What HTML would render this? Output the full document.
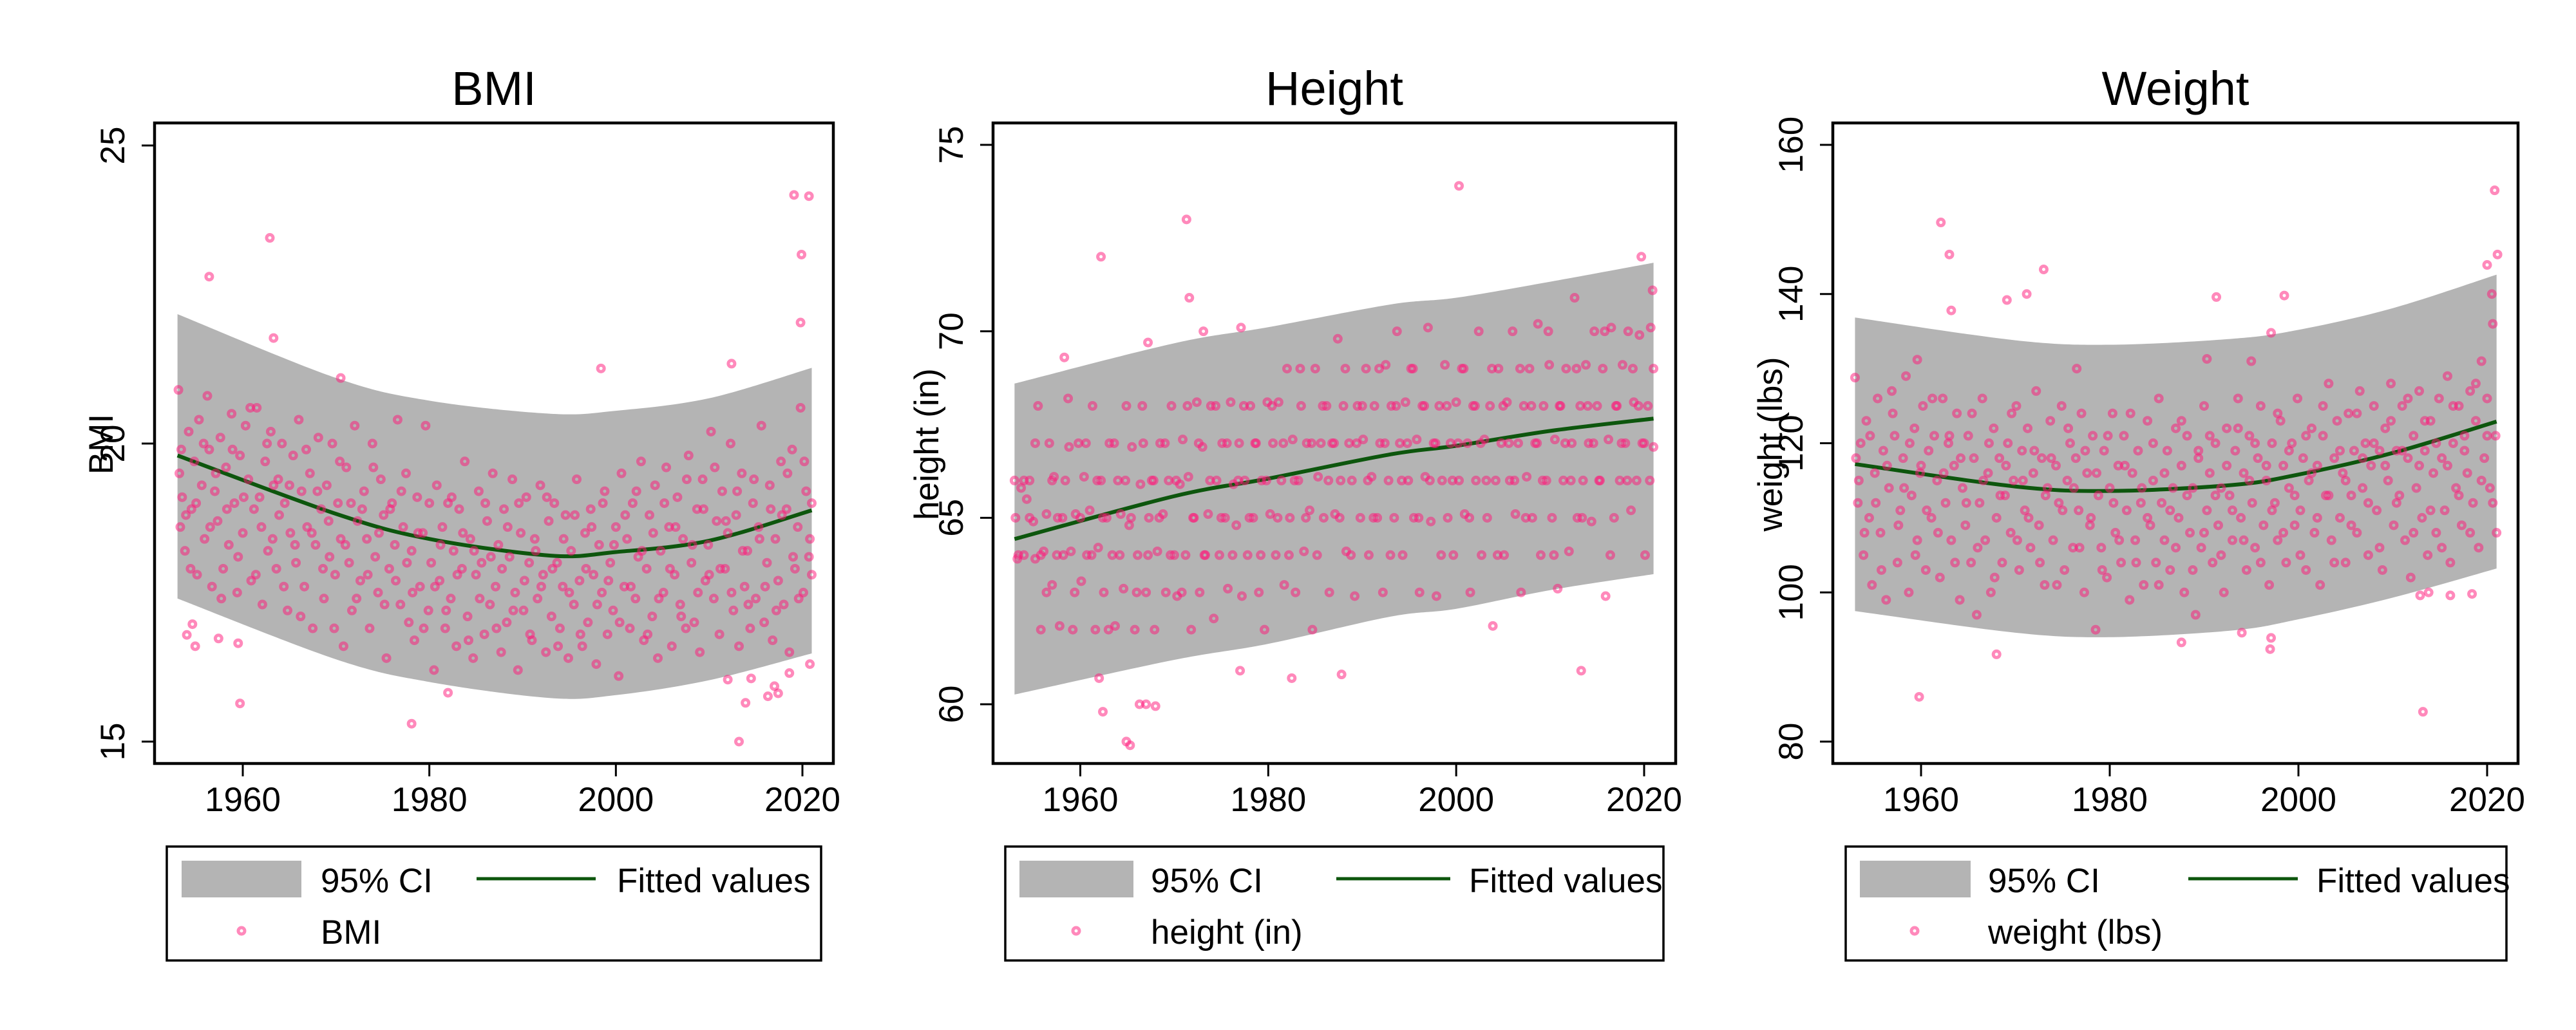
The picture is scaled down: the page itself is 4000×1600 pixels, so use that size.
<!DOCTYPE html>
<html><head><meta charset="utf-8"><style>
html,body{margin:0;padding:0;background:#fff;}
svg{display:block;font-family:"Liberation Sans",Arial,sans-serif;}
</style></head><body>
<svg id="chart" width="4000" height="1600" viewBox="0 0 4000 1600" xmlns="http://www.w3.org/2000/svg">
<rect x="0" y="0" width="4000" height="1600" fill="#fff"/>
</svg>
<script>
// ---------- data ----------
const xTicks = [1960, 1980, 2000, 2020];
const fitYears = [1953, 1970, 1980, 1993, 2000, 2010, 2021];
const bmiFit = [19.8, 18.82, 18.4, 18.12, 18.18, 18.37, 18.88];
const bmiUpper = [22.17, 21.1, 20.72, 20.5, 20.55, 20.76, 21.27];
const bmiLower = [17.4, 16.38, 16.0, 15.73, 15.78, 16.03, 16.48];
const heightFit = [64.43, 65.58, 66.05, 66.7, 66.93, 67.33, 67.66];
const heightUpper = [68.6, 69.68, 70.11, 70.72, 70.9, 71.33, 71.84];
const heightLower = [60.26, 61.19, 61.62, 62.35, 62.56, 63.06, 63.49];
const weightFit = [117.2, 114.2, 113.6, 114.4, 115.8, 118.7, 122.9];
const weightUpper = [136.85, 133.8, 133.2, 134.0, 135.2, 138.1, 142.6];
const weightLower = [97.5, 94.6, 94.0, 94.9, 96.4, 99.3, 103.2];
const bmiTicks = [15, 20, 25];
const heightTicks = [60, 65, 70, 75];
const weightTicks = [80, 100, 120, 140, 160];

const bmiPoints = [[1962.9,23.45],[1956.4,22.8],[1963.3,21.77],[1970.5,21.1],[1998.4,21.26],[2012.4,21.34],[2019.1,24.17],[2020.7,24.15],[2019.9,23.17],[2019.8,22.03],[1959.7,15.64],[1978.1,15.3],[2013.2,15.0],[2013.9,15.65],[2014.5,16.06],[2017,15.93],[2016.3,15.76],[2017.4,15.81],[2018.6,16.15],[2020.8,16.3],[1954.9,16.6],[1954,16.79],[1954.6,16.97],[1957.4,16.73],[1959.5,16.65],[1982,15.82],[2012,16.04],
[1953.1,20.9],[1953.2,19.5],[1953.3,18.6],[1953.5,19.1],[1953.8,18.2],[1954.2,20.2],[1954.5,18.9],[1954.8,19.7],[1955.1,17.8],[1955.3,20.4],[1955.6,19.3],[1955.9,18.4],[1956.2,20.8],[1956.4,19.9],[1956.7,17.6],[1957.0,19.2],[1957.3,18.7],[1957.6,20.1],[1957.9,17.9],[1958.2,19.6],[1958.5,18.3],[1958.8,20.5],[1959.1,19.0],[1959.4,17.5],[1959.7,19.8],[1960.0,18.5],[1960.3,20.3],[1960.6,19.4],[1960.9,17.7],
[1961.2,18.9],[1961.5,20.6],[1961.8,19.1],[1962.1,17.3],[1962.4,19.7],[1962.7,18.2],[1963.0,20.2],[1963.3,19.3],[1963.6,17.9],[1963.9,18.8],[1964.2,20.0],[1964.5,19.0],[1964.8,17.2],[1965.1,18.5],[1965.4,19.8],[1965.7,18.0],[1966.0,20.4],[1966.3,19.2],[1966.6,17.6],[1966.9,18.6],[1967.2,19.5],[1967.5,16.9],[1967.8,18.3],[1968.1,20.1],[1968.4,18.9],[1968.7,17.4],[1969.0,19.3],[1969.3,18.1],[1969.6,20.0],[1969.9,17.8],[1970.2,19.0],[1970.5,18.4],[1970.8,16.6],
[1971.1,19.6],[1971.4,18.0],[1971.7,17.2],[1972.0,20.3],[1972.3,18.7],[1972.6,17.7],[1973.0,19.2],[1973.3,18.4],[1973.6,16.9],[1973.9,20.0],[1974.2,18.1],[1974.5,17.5],[1974.8,19.4],[1975.1,18.8],[1975.4,16.4],[1975.7,17.9],[1976.0,19.0],[1976.3,18.3],[1976.6,20.4],[1976.9,17.3],[1977.2,18.6],[1977.5,19.5],[1977.8,17.0],[1978.1,18.2],[1978.4,16.7],[1978.7,19.1],[1979.0,17.6],[1979.3,18.5],[1979.6,20.3],[1979.9,17.2],[1980.2,18.0],[1980.5,16.2],[1980.8,19.3],
[1981.1,17.7],[1981.4,18.6],[1981.7,16.9],[1982.0,19.0],[1982.3,17.4],[1982.6,18.2],[1982.9,16.6],[1983.2,18.9],[1983.5,17.9],[1983.8,19.7],[1984.1,17.1],[1984.4,18.4],[1984.7,16.4],[1985.0,17.8],[1985.3,19.2],[1985.6,18.0],[1985.9,16.8],[1986.2,18.7],[1986.5,17.3],[1986.8,19.5],[1987.1,17.6],[1987.4,18.3],[1987.7,16.5],[1988.0,18.9],[1988.3,17.0],[1988.6,18.1],[1988.9,19.4],[1989.2,17.5],[1989.5,16.2],[1989.8,18.5],[1990.1,17.2],[1990.4,19.1],[1990.7,18.0],
[1991.0,16.7],[1991.3,18.4],[1991.6,17.4],[1991.9,19.3],[1992.2,17.8],[1992.5,16.5],[1992.8,18.7],[1993.1,17.1],[1993.4,19.0],[1993.7,18.0],[1994.0,16.9],[1994.3,17.6],[1994.6,18.8],[1994.9,16.4],[1995.2,18.2],[1995.5,17.3],[1995.8,19.4],[1996.1,17.7],[1996.4,16.6],[1996.7,18.5],[1997.0,17.0],[1997.3,18.9],[1997.6,17.8],[1997.9,16.3],[1998.2,18.3],[1998.5,17.5],[1998.8,19.2],[1999.1,16.8],[1999.4,18.0],[1999.7,17.2],[2000.0,18.6],[2000.3,16.1],[2000.6,19.5],
[2000.9,17.6],[2001.2,18.4],[2001.5,16.9],[2001.8,19.0],[2002.1,17.4],[2002.4,18.1],[2002.7,19.7],[2003.0,16.7],[2003.3,17.9],[2003.6,18.8],[2003.9,17.1],[2004.2,19.3],[2004.5,16.4],[2004.8,18.2],[2005.1,17.5],[2005.4,19.6],[2005.7,18.6],[2006.0,16.6],[2006.3,17.8],[2006.6,19.1],[2006.9,17.3],[2007.2,18.4],[2007.5,16.9],[2007.8,19.8],[2008.1,18.0],[2008.4,17.0],[2008.7,18.9],[2009.0,16.5],[2009.3,19.4],[2009.6,17.7],[2009.9,18.3],[2010.2,20.2],[2010.5,17.4],
[2010.8,18.7],[2011.1,16.8],[2011.4,19.2],[2011.7,17.9],[2012.0,18.5],[2012.3,20.0],[2012.6,17.2],[2012.9,18.8],[2013.2,16.6],[2013.5,19.5],[2013.8,17.6],[2014.1,18.2],[2014.4,16.9],[2014.7,19.0],[2015.0,17.4],[2015.3,18.6],[2015.6,20.3],[2015.9,17.0],[2016.2,18.0],[2016.5,19.3],[2016.8,16.7],[2017.1,18.4],[2017.4,17.7],[2017.7,19.7],[2018.0,17.3],[2018.3,18.9],[2018.6,16.5],[2018.9,19.9],[2019.2,17.9],[2019.5,18.6],[2019.8,20.6],[2020.1,17.5],[2020.4,19.2],[2020.7,18.1],[2021.0,19.0],[2021.0,17.8]];
const bmiPoints2 = [[1953.4,19.9],[1953.9,18.8],[1954.4,17.9],[1955.0,19.0],[1955.8,20.0],[1956.5,18.6],[1957.1,19.5],[1957.7,17.4],[1958.3,18.9],[1958.9,19.9],[1959.5,18.1],[1960.1,19.1],[1960.8,20.6],[1961.4,17.8],[1962.0,18.6],[1962.6,20.0],[1963.2,18.4],[1963.8,19.4],[1964.4,17.6],[1965.0,19.3],[1965.6,18.3],[1966.2,17.1],[1966.8,19.9],[1967.4,18.5],[1968.0,19.2],[1968.6,17.9],[1969.2,18.7],[1969.8,16.9],[1970.4,19.7],[1971.0,18.3],[1971.6,19.0],[1972.2,17.4],[1972.8,18.9],[1973.4,17.8],[1974.0,19.6],[1974.6,18.5],[1975.2,17.3],[1975.8,18.9],[1976.4,17.7],[1977.0,19.2],[1977.6,18.0],[1978.2,17.5],[1978.8,18.5],[1979.4,16.9],[1980.0,19.0],[1980.6,17.6],[1981.2,18.3],[1981.8,17.2],[1982.4,19.1],[1983.0,17.8],[1983.6,18.5],[1984.2,16.7],[1984.8,18.2],[1985.4,17.4],[1986.0,19.0],[1986.6,18.1],[1987.2,16.9],[1987.8,17.9],[1988.4,18.6],[1989.0,17.2],[1989.6,19.0],[1990.2,17.7],[1990.8,16.8],[1991.4,18.2],[1992.0,17.6],[1992.6,19.1],[1993.2,17.9],[1993.8,16.6],[1994.4,18.4],[1995.0,17.5],[1995.6,18.8],[1996.2,16.8],[1996.8,17.9],[1997.4,18.6],[1998.0,17.3],[1998.6,19.0],[1999.2,17.7],[1999.8,18.3],[2000.4,17.0],[2001.0,18.8],[2001.6,17.6],[2002.2,19.2],[2002.8,18.2],[2003.4,16.8],[2004.0,18.5],[2004.6,17.4],[2005.2,19.0],[2005.8,17.9],[2006.4,18.6],[2007.0,17.1],[2007.6,19.4],[2008.2,18.3],[2008.8,17.5],[2009.4,18.9],[2010.0,17.8],[2010.6,19.6],[2011.2,17.9],[2011.8,18.7],[2012.4,17.5],[2013.0,19.2],[2013.6,18.2],[2014.2,17.3],[2014.8,19.4],[2015.4,18.4],[2016.0,17.6],[2016.6,18.9],[2017.2,17.2],[2017.8,18.8],[2018.4,19.5],[2019.0,18.1],[2019.6,17.4],[2020.2,19.7],[2020.8,18.4]];

const heightPoints = [[1962.2,72.0],[1971.3,73.0],[1971.6,70.9],[2000.3,73.9],[2019.7,72.0],[1964.9,59.0],[1965.3,58.9],[1962.4,59.8],[1966.3,60.0],[1967,60.0],[1968,59.95],[1962,60.7],[1977,60.9],[1982.5,60.7],[1987.8,60.8],[2013.3,60.9],[1958.3,69.3],[1967.2,69.7],[1973.1,70.0],[1977.1,70.1],
[1953.0,66.0],[1953.1,65.0],[1953.3,63.9],[1953.7,65.8],[1954.0,64.0],[1954.3,65.5],[1954.6,66.0],[1955.0,64.9],[1955.2,63.9],[1955.5,68.0],[1955.8,62.0],[1956.1,64.1],[1956.4,65.1],[1956.7,67.0],[1957.0,63.2],[1957.2,66.1],[1957.5,64.0],[1957.8,62.1],[1958.1,65.0],[1958.4,66.0],[1958.7,68.2],[1959.0,64.1],[1959.2,62.0],[1959.5,65.1],[1959.8,67.0],[1960.1,63.3],[1960.4,66.1],[1960.7,64.0],[1961.0,65.2],[1961.3,68.0],[1961.6,62.0],[1961.9,64.2],[1962.2,66.0],[1962.5,63.0],
[1962.8,65.0],[1963.1,67.0],[1963.4,64.0],[1963.7,62.1],[1964.0,66.0],[1964.3,65.1],[1964.6,63.1],[1964.9,68.0],[1965.2,64.8],[1965.5,66.9],[1965.8,62.0],[1966.1,64.0],[1966.4,65.9],[1966.7,67.0],[1967.0,63.0],[1967.3,65.0],[1967.6,66.0],[1967.9,62.0],[1968.2,64.1],[1968.5,67.0],[1968.8,65.1],[1969.1,63.0],[1969.4,66.0],[1969.7,68.0],[1970.0,64.0],[1970.3,62.9],[1970.6,65.9],[1970.9,67.1],[1971.2,64.0],[1971.5,66.1],[1971.8,62.0],[1972.1,65.0],[1972.4,68.1],[1972.7,63.0],
[1973.0,66.9],[1973.3,64.0],[1973.6,65.1],[1973.9,68.0],[1974.2,62.3],[1974.5,66.0],[1974.8,64.0],[1975.1,67.0],[1975.4,65.0],[1975.7,63.1],[1976.0,68.1],[1976.3,65.9],[1976.6,64.8],[1976.9,67.0],[1977.2,62.9],[1977.5,66.0],[1977.8,64.0],[1978.1,68.0],[1978.4,65.0],[1978.7,67.0],[1979.0,63.0],[1979.3,66.0],[1979.6,62.0],[1979.9,68.1],[1980.2,65.1],[1980.5,67.0],[1980.8,64.0],[1981.1,68.1],[1981.4,66.0],[1981.7,63.2],[1982.0,69.0],[1982.3,65.0],[1982.6,67.1],[1982.9,63.0],
[1983.2,66.0],[1983.5,68.0],[1983.8,64.1],[1984.1,67.0],[1984.4,65.2],[1984.7,62.0],[1985.0,69.0],[1985.3,66.1],[1985.6,67.0],[1985.9,65.0],[1986.2,68.0],[1986.5,63.0],[1986.8,67.0],[1987.1,65.1],[1987.4,69.8],[1987.7,66.0],[1988.0,68.0],[1988.3,64.1],[1988.6,67.0],[1988.9,66.0],[1989.2,62.9],[1989.5,68.0],[1989.8,65.0],[1990.1,67.1],[1990.4,69.0],[1990.7,64.0],[1991.0,66.1],[1991.3,68.0],[1991.6,65.0],[1991.9,67.0],[1992.2,63.0],[1992.5,69.1],[1992.8,66.0],
[1993.1,68.0],[1993.4,65.0],[1993.7,70.0],[1994.0,67.0],[1994.3,64.0],[1994.6,68.1],[1994.9,66.0],[1995.2,69.0],[1995.5,65.0],[1995.8,67.1],[1996.1,63.0],[1996.4,68.0],[1996.7,66.1],[1997.0,70.1],[1997.3,64.9],[1997.6,67.0],[1997.9,62.9],[1998.2,68.0],[1998.5,66.0],[1998.8,69.1],[1999.1,65.0],[1999.4,67.0],[1999.7,64.0],[2000.0,68.1],[2000.3,66.0],[2000.6,69.0],[2000.9,65.1],[2001.2,67.0],[2001.5,63.0],[2001.8,68.0],[2002.1,66.0],[2002.4,70.0],[2002.7,64.0],
[2003.0,67.1],[2003.3,65.0],[2003.6,68.0],[2003.9,62.1],[2004.2,66.0],[2004.5,69.0],[2004.8,67.0],[2005.1,64.0],[2005.4,68.1],[2005.7,66.0],[2006.0,70.0],[2006.3,65.1],[2006.6,67.0],[2006.9,63.0],[2007.2,68.0],[2007.5,66.1],[2007.8,69.0],[2008.1,65.0],[2008.4,67.0],[2008.7,70.2],[2009.0,64.0],[2009.3,68.0],[2009.6,66.0],[2009.9,69.1],[2010.2,65.0],[2010.5,67.1],[2010.8,63.1],[2011.1,68.0],[2011.4,66.0],[2011.7,69.0],[2012.0,64.1],[2012.3,67.0],[2012.6,70.9],
[2012.9,65.0],[2013.2,68.0],[2013.5,66.0],[2013.8,69.1],[2014.1,67.0],[2014.4,64.9],[2014.7,70.0],[2015.0,68.0],[2015.3,66.0],[2015.6,69.0],[2015.9,62.9],[2016.2,67.1],[2016.5,70.1],[2016.8,65.0],[2017.1,68.0],[2017.4,66.0],[2017.7,69.1],[2018.0,67.0],[2018.3,70.0],[2018.6,65.2],[2018.9,68.1],[2019.2,66.0],[2019.5,69.9],[2019.8,67.0],[2020.1,64.0],[2020.4,68.0],[2020.7,70.1],[2021.0,66.9],[2021.0,69.0],[2020.9,71.1]];
const heightPoints2 = [[1953.4,64.0],[1954.0,66.0],[1954.6,65.0],[1955.2,67.0],[1955.8,64.0],[1956.4,63.0],[1957.0,66.0],[1957.6,65.0],[1958.2,64.0],[1958.8,66.9],[1959.4,63.0],[1960.0,65.0],[1960.6,67.0],[1961.2,64.0],[1961.8,66.0],[1962.4,65.0],[1963.0,62.0],[1963.6,67.0],[1964.2,64.0],[1964.8,66.0],[1965.4,65.0],[1966.0,63.0],[1966.6,68.0],[1967.2,64.0],[1967.8,66.0],[1968.4,65.0],[1969.0,67.0],[1969.6,64.0],[1970.2,66.0],[1970.8,63.0],[1971.4,68.0],[1972.0,65.0],[1972.6,67.0],[1973.2,64.0],[1973.8,66.0],[1974.4,68.0],[1975.0,65.0],[1975.6,67.0],[1976.2,64.0],[1976.8,66.0],[1977.4,68.0],[1978.0,65.0],[1978.6,67.0],[1979.2,64.0],[1979.8,66.0],[1980.4,68.0],[1981.0,65.0],[1981.6,67.0],[1982.2,64.0],[1982.8,66.0],[1983.4,69.0],[1984.0,65.0],[1984.6,67.0],[1985.2,64.0],[1985.8,68.0],[1986.4,66.0],[1987.0,67.0],[1987.6,65.0],[1988.2,69.0],[1988.8,64.0],[1989.4,67.0],[1990.0,68.0],[1990.6,66.0],[1991.2,65.0],[1991.8,69.0],[1992.4,67.0],[1993.0,64.0],[1993.6,68.0],[1994.2,66.0],[1994.8,67.0],[1995.4,69.0],[1996.0,65.0],[1996.6,68.0],[1997.2,66.0],[1997.8,67.0],[1998.4,64.0],[1999.0,68.0],[1999.6,66.0],[2000.2,67.0],[2000.8,69.0],[2001.4,65.0],[2002.0,68.0],[2002.6,67.0],[2003.2,66.0],[2003.8,69.0],[2004.4,64.0],[2005.0,68.0],[2005.6,67.0],[2006.2,66.0],[2006.8,69.0],[2007.4,65.0],[2008.0,68.0],[2008.6,67.0],[2009.2,66.0],[2009.8,70.0],[2010.4,64.0],[2011.0,68.0],[2011.6,67.0],[2012.2,66.0],[2012.8,69.0],[2013.4,65.0],[2014.0,68.0],[2014.6,67.0],[2015.2,66.0],[2015.8,70.0],[2016.4,64.0],[2017.0,68.0],[2017.6,67.0],[2018.2,66.0],[2018.8,69.0],[2019.4,68.0],[2020.0,67.0],[2020.6,66.0]];

const weightPoints = [[1962.1,149.6],[1963.0,145.3],[1963.2,137.8],[1959.6,131.2],[1971.2,140.0],[1969.1,139.2],[1973,143.3],[1976.5,130.0],[1968,91.7],[1959.8,86],[1987.6,93.3],[1990.3,131.3],[1991.3,139.6],[1997.1,134.8],[1998.5,139.8],[1995,131],[2020.8,153.9],[2021.1,145.3],[2020,143.9],[2013.2,84],[1997,92.4],[1997.1,93.9],[1994,94.6],[2012.9,99.6],[2013.8,100],[2016.1,99.6],[2018.4,99.8],
[1953.0,128.8],[1953.1,118],[1953.3,112],[1953.6,120],[1953.9,105],[1954.2,123],[1954.5,110],[1954.8,101],[1955.1,116],[1955.4,126],[1955.7,108],[1956.0,119],[1956.3,99],[1956.6,114],[1956.9,127],[1957.2,121],[1957.5,104],[1957.8,111],[1958.1,118],[1958.4,129],[1958.7,100],[1959.0,113],[1959.3,122],[1959.6,107],[1959.9,116],[1960.2,125],[1960.5,103],[1960.8,119],[1961.1,110],[1961.4,121],[1961.7,115],[1962.0,102],[1962.3,126],
[1962.6,112],[1962.9,120],[1963.2,107],[1963.5,117],[1963.8,124],[1964.1,99],[1964.4,114],[1964.7,109],[1965.0,121],[1965.3,104],[1965.6,118],[1965.9,97],[1966.2,112],[1966.5,126],[1966.8,107],[1967.1,116],[1967.4,100],[1967.7,122],[1968.0,110],[1968.3,118],[1968.6,104],[1968.9,113],[1969.2,120],[1969.5,108],[1969.8,115],[1970.1,125],[1970.4,103],[1970.7,119],[1971.0,111],[1971.3,122],[1971.6,106],[1971.9,116],[1972.2,127],
[1972.5,109],[1972.8,118],[1973.1,101],[1973.4,114],[1973.7,123],[1974.0,107],[1974.3,117],[1974.6,112],[1974.9,125],[1975.2,103],[1975.5,115],[1975.8,120],[1976.1,106],[1976.4,118],[1976.7,111],[1977.0,124],[1977.3,100],[1977.6,116],[1977.9,109],[1978.2,121],[1978.5,95],[1978.8,113],[1979.1,106],[1979.4,119],[1979.7,102],[1980.0,114],[1980.3,124],[1980.6,108],[1980.9,117],[1981.2,104],[1981.5,121],[1981.8,111],[1982.1,99],
[1982.4,116],[1982.7,107],[1983.0,119],[1983.3,112],[1983.6,101],[1984.0,123],[1984.3,109],[1984.6,115],[1984.9,104],[1985.2,126],[1985.5,112],[1985.8,107],[1986.1,119],[1986.4,103],[1986.7,114],[1987.0,122],[1987.3,110],[1987.6,117],[1987.9,100],[1988.2,121],[1988.5,108],[1988.8,114],[1989.1,97],[1989.4,118],[1989.7,106],[1990.0,125],[1990.3,111],[1990.6,116],[1990.9,104],[1991.2,120],[1991.5,109],[1991.8,114],[1992.1,100],
[1992.4,122],[1992.7,113],[1993.0,107],[1993.3,119],[1993.6,126],[1993.9,110],[1994.2,116],[1994.5,103],[1994.8,121],[1995.1,112],[1995.4,106],[1995.7,118],[1996.0,125],[1996.3,109],[1996.6,115],[1996.9,101],[1997.2,120],[1997.5,112],[1997.8,107],[1998.1,123],[1998.4,117],[1998.7,104],[1999.0,114],[1999.3,120],[1999.6,109],[1999.9,126],[2000.2,111],[2000.5,118],[2000.8,103],[2001.1,115],[2001.4,122],[2001.7,108],[2002.0,117],
[2002.3,101],[2002.6,121],[2002.9,113],[2003.2,128],[2003.5,107],[2003.8,118],[2004.1,123],[2004.4,110],[2004.7,116],[2005.0,104],[2005.3,124],[2005.6,113],[2005.9,119],[2006.2,108],[2006.5,127],[2006.8,114],[2007.1,120],[2007.4,105],[2007.7,117],[2008.0,125],[2008.3,111],[2008.6,119],[2008.9,103],[2009.2,122],[2009.5,115],[2009.8,128],[2010.1,109],[2010.4,119],[2010.7,113],[2011.0,125],[2011.3,107],[2011.6,118],[2011.9,102],
[2012.2,121],[2012.5,114],[2012.8,127],[2013.1,110],[2013.4,119],[2013.7,105],[2014.0,123],[2014.3,116],[2014.6,108],[2014.9,126],[2015.2,118],[2015.5,111],[2015.8,129],[2016.1,104],[2016.4,120],[2016.7,114],[2017.0,125],[2017.3,109],[2017.6,121],[2017.9,116],[2018.2,127],[2018.5,112],[2018.8,123],[2019.1,106],[2019.4,131],[2019.7,118],[2020.0,126],[2020.3,114],[2020.6,136],[2020.9,121],[2021.0,108],[2020.5,140]];
const weightPoints2 = [[1953.4,115],[1954.0,108],[1954.6,121],[1955.2,112],[1955.8,103],[1956.4,117],[1957.0,124],[1957.6,109],[1958.2,114],[1958.8,120],[1959.4,105],[1960.0,117],[1960.6,111],[1961.2,126],[1961.8,108],[1962.4,116],[1963.0,121],[1963.6,104],[1964.2,118],[1964.8,112],[1965.4,124],[1966.0,106],[1966.6,115],[1967.2,120],[1967.8,102],[1968.4,113],[1969.0,117],[1969.6,124],[1970.2,107],[1970.8,115],[1971.4,110],[1972.0,119],[1972.6,104],[1973.2,113],[1973.8,118],[1974.4,101],[1975.0,111],[1975.6,122],[1976.2,114],[1976.8,106],[1977.4,119],[1978.0,110],[1978.6,116],[1979.2,103],[1979.8,121],[1980.4,112],[1981.0,107],[1981.6,117],[1982.2,124],[1982.8,104],[1983.4,114],[1984.0,110],[1984.6,120],[1985.2,101],[1985.8,116],[1986.4,111],[1987.0,106],[1987.6,123],[1988.2,113],[1988.8,103],[1989.4,119],[1990.0,108],[1990.6,121],[1991.2,113],[1991.8,105],[1992.4,117],[1993.0,111],[1993.6,122],[1994.2,107],[1994.8,115],[1995.4,120],[1996.0,104],[1996.6,117],[1997.2,111],[1997.8,124],[1998.4,108],[1999.0,119],[1999.6,113],[2000.2,105],[2000.8,121],[2001.4,116],[2002.0,110],[2002.6,125],[2003.2,113],[2003.8,104],[2004.4,119],[2005.0,115],[2005.6,109],[2006.2,124],[2006.8,118],[2007.4,112],[2008.0,120],[2008.6,106],[2009.2,117],[2009.8,123],[2010.4,112],[2011.0,119],[2011.6,126],[2012.2,108],[2012.8,117],[2013.4,123],[2014.0,111],[2014.6,120],[2015.2,106],[2015.8,117],[2016.4,125],[2017.0,113],[2017.6,119],[2018.2,108],[2018.8,128],[2019.4,115],[2020.0,121],[2020.6,112]];

// ---------- layout ----------
const NS = 'http://www.w3.org/2000/svg';
const svg = document.getElementById('chart');
const TOP = 191, BOT = 1186;
const MARK = 'rgba(255,20,120,0.5)';
const panels = [
  {key:'bmi', title:'BMI', ytitle:'BMI', left:240, right:1294, x0:377, x1:1246, yTop:25, yTopPx:226, yBot:15, yBotPx:1152, ticks:bmiTicks, fit:bmiFit, up:bmiUpper, lo:bmiLower, pts:bmiPoints.concat(bmiPoints2), ytOff:65,
   lg:{l:259, r:1275, rect:[23,209], t1:239, line:[481,666], t2:699, mk:116}, label:'BMI'},
  {key:'height', title:'Height', ytitle:'height (in)', left:1542, right:2602, x0:1677.5, x1:2553, yTop:75, yTopPx:225, yBot:60, yBotPx:1094, ticks:heightTicks, fit:heightFit, up:heightUpper, lo:heightLower, pts:heightPoints.concat(heightPoints2), ytOff:85,
   lg:{l:1561, r:2583, rect:[22,199], t1:226, line:[514,691], t2:720, mk:110}, label:'height (in)'},
  {key:'weight', title:'Weight', ytitle:'weight (lbs)', left:2846, right:3910, x0:2983, x1:3862, yTop:160, yTopPx:225, yBot:80, yBotPx:1152, ticks:weightTicks, fit:weightFit, up:weightUpper, lo:weightLower, pts:weightPoints.concat(weightPoints2), ytOff:79,
   lg:{l:2866, r:3892, rect:[22,194], t1:221, line:[532,702], t2:731, mk:107}, label:'weight (lbs)'}
];

function mk(tag, attrs, parent){
  const e = document.createElementNS(NS, tag);
  for (const k in attrs) e.setAttribute(k, attrs[k]);
  (parent||svg).appendChild(e);
  return e;
}
function smooth(pts){
  let d = 'M'+pts[0][0]+','+pts[0][1];
  for (let i=0;i<pts.length-1;i++){
    const p0=pts[Math.max(0,i-1)], p1=pts[i], p2=pts[i+1], p3=pts[Math.min(pts.length-1,i+2)];
    const c1=[p1[0]+(p2[0]-p0[0])/6, p1[1]+(p2[1]-p0[1])/6];
    const c2=[p2[0]-(p3[0]-p1[0])/6, p2[1]-(p3[1]-p1[1])/6];
    d += ' C'+c1[0]+','+c1[1]+' '+c2[0]+','+c2[1]+' '+p2[0]+','+p2[1];
  }
  return d;
}
function smoothCont(pts){ return smooth(pts).replace(/^M/,'L'); }

panels.forEach(p => {
  const g = mk('g', {});
  
  
  const xs = v => p.x0 + (v-1960)*(p.x1-p.x0)/60;
  const ys = v => p.yTopPx + (p.yTop - v)*(p.yBotPx-p.yTopPx)/(p.yTop-p.yBot);
  const cx = (p.left+p.right)/2;

  const t = mk('text', {x:cx, y:163, 'font-size':74, 'text-anchor':'middle', fill:'#000'}, g);
  t.textContent = p.title;
  
  

  const upPts = fitYears.map((y,i)=>[xs(y), ys(p.up[i])]);
  const loPts = fitYears.map((y,i)=>[xs(y), ys(p.lo[i])]).reverse();
  const band = mk('path', {d: smooth(upPts)+' L'+loPts[0][0]+','+loPts[0][1]+' '+smoothCont(loPts).slice(1)+' Z', fill:'#b4b4b4'}, g);
  
  

  const fitPts = fitYears.map((y,i)=>[xs(y), ys(p.fit[i])]);
  const fl = mk('path', {d: smooth(fitPts), fill:'none', stroke:'#0d560d', 'stroke-width':6}, g);
  
  

  const pg = mk('g', {fill:'none', stroke:MARK, 'stroke-width':5}, g);
  
  
  p.pts.forEach(d => {
    const c = mk('circle', {cx: xs(d[0]), cy: ys(d[1]), r:5}, pg);
    
    
  });

  const fr = mk('rect', {x:p.left, y:TOP, width:p.right-p.left, height:BOT-TOP, fill:'none', stroke:'#000', 'stroke-width':4.5}, g);
  
  

  xTicks.forEach(v => {
    const x = xs(v);
    const l = mk('line', {x1:x, x2:x, y1:BOT, y2:BOT+20, stroke:'#000', 'stroke-width':3}, g);
    
    
    const tx = mk('text', {x:x, y:1260, 'font-size':53, 'text-anchor':'middle'}, g);
    tx.textContent = v;
    
    
  });
  p.ticks.forEach(v => {
    const y = ys(v);
    const l = mk('line', {x1:p.left-20, x2:p.left, y1:y, y2:y, stroke:'#000', 'stroke-width':3}, g);
    
    
    const tx = mk('text', {x:0, y:0, 'font-size':53, 'text-anchor':'middle', transform:'translate('+(p.left-47)+','+y+') rotate(-90)'}, g);
    tx.textContent = v;
    
    
  });
  const yt = mk('text', {x:0, y:0, 'font-size':53, 'text-anchor':'middle', transform:'translate('+(p.left-p.ytOff)+',690) rotate(-90)'}, g);
  yt.textContent = p.ytitle;
  
  

  const L = p.lg;
  const lg = mk('g', {}, g);
  
  
  mk('rect', {x:L.l, y:1315, width:L.r-L.l, height:177, fill:'#fff', stroke:'#000', 'stroke-width':3.5}, lg);
  const lr = mk('rect', {x:L.l+L.rect[0], y:1337, width:L.rect[1]-L.rect[0], height:57, fill:'#b4b4b4'}, lg);
  
  
  const t1 = mk('text', {x:L.l+L.t1, y:1386, 'font-size':53}, lg);
  t1.textContent = '95% CI';
  
  
  const ll = mk('line', {x1:L.l+L.line[0], x2:L.l+L.line[1], y1:1365, y2:1365, stroke:'#0d560d', 'stroke-width':5}, lg);
  
  
  const t2 = mk('text', {x:L.l+L.t2, y:1386, 'font-size':53}, lg);
  t2.textContent = 'Fitted values';
  
  
  const lm = mk('circle', {cx:L.l+L.mk, cy:1446, r:5, fill:'none', stroke:MARK, 'stroke-width':5}, lg);
  
  
  const t3 = mk('text', {x:L.l+L.t1, y:1466, 'font-size':53}, lg);
  t3.textContent = p.label;
  
  
});
</script>
</body></html>
